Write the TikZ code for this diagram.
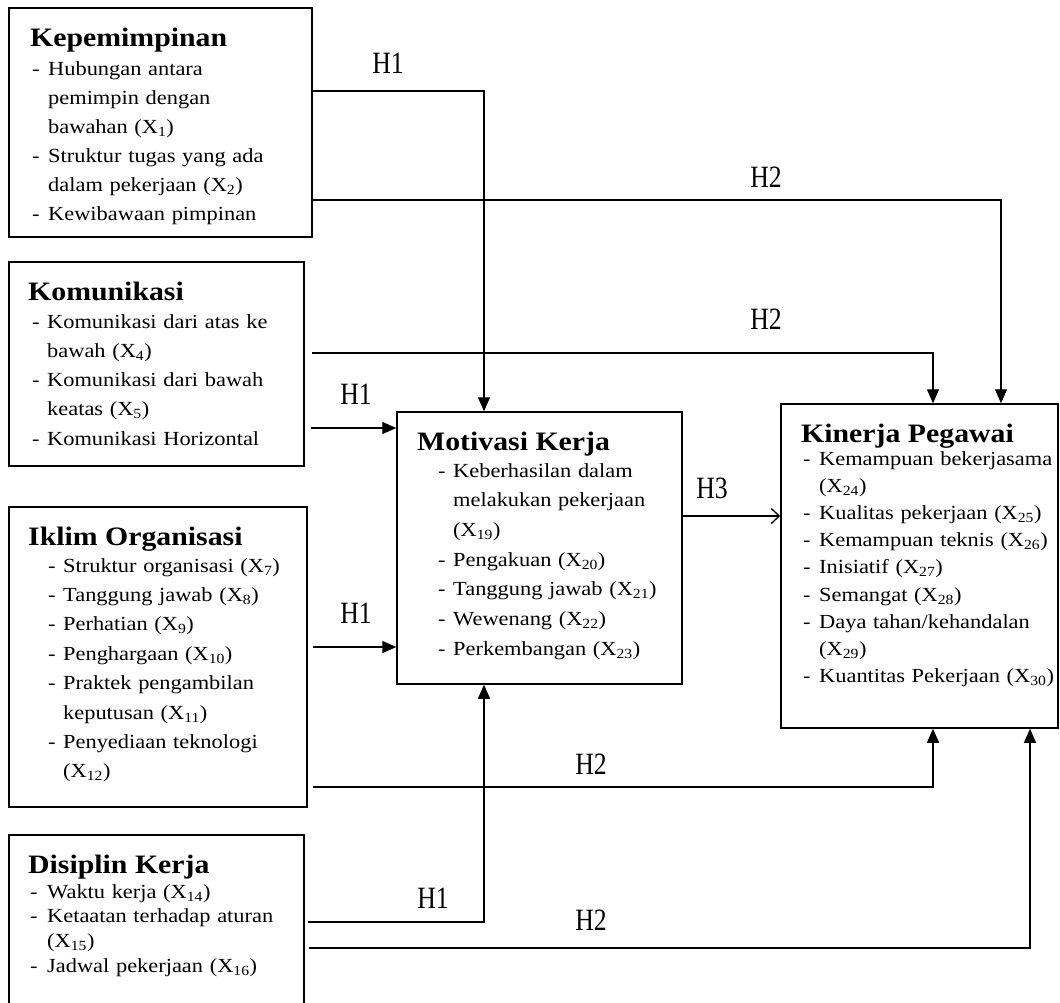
\documentclass[tikz,border=0pt]{standalone}
\usepackage{fontspec}
\setmainfont{Liberation Serif}[FakeStretch=1.12]
\newfontfamily\labfont{Liberation Serif}[FakeStretch=0.83]
\usetikzlibrary{arrows.meta,calc}
\setlength{\parindent}{0pt}
\newcommand{\dsh}[1]{\makebox[#1][l]{-}}
\newcommand{\ind}[1]{\hspace*{#1}}
\newcommand{\xs}[1]{(X\textsubscript{#1})}
\tikzset{
  box/.style={draw, line width=1.5pt, inner sep=0pt},
  ttl/.style={anchor=base west, inner sep=0pt, font=\fontsize{26.6}{30}\selectfont\bfseries},
  items/.style={anchor=base west, inner sep=0pt, align=left, text width=270pt},
  conn/.style={line width=1.3pt},
  arr/.style={conn, -{Triangle[length=14pt,width=12pt]}},
  oarr/.style={conn, -{Straight Barb[length=8pt,width=15pt]}},
  lab/.style={anchor=base, inner sep=0pt, font=\labfont\fontsize{31}{31}\selectfont}
}
\begin{document}
\begin{tikzpicture}[x=1pt,y=-1pt]
\useasboundingbox (0,0) rectangle (1060,1002);
\fill[white] (0,0) rectangle (1060,1002);
\clip (0,0) rectangle (1060,1002);

% boxes
\node[box, minimum width=303pt, minimum height=229pt] (kep) at (160.5,122.5) {};
\node[box, minimum width=295pt, minimum height=204pt] (kom) at (156.5,364) {};
\node[box, minimum width=298pt, minimum height=300pt] (ikl) at (158,657) {};
\node[box, minimum width=295pt, minimum height=180pt] (dis) at (156.5,925) {};
\node[box, minimum width=285pt, minimum height=272pt] (mot) at (539.5,548) {};
\node[box, minimum width=277pt, minimum height=324pt] (kin) at (919.5,566) {};

% titles
\node[ttl] (kept) at (30,46) {Kepemimpinan};
\node[ttl] (komt) at (28,300) {Komunikasi};
\node[ttl] (iklt) at (28,545) {Iklim Organisasi};
\node[ttl] (dist) at (28,873) {Disiplin Kerja};
\node[ttl] (mott) at (417,450) {Motivasi Kerja};
\node[ttl] (kint) at (801,442) {Kinerja Pegawai};

% item lists
\node[items, font=\fontsize{20}{29}\selectfont] (kepi) at (32,75) {%
\dsh{16pt}Hubungan antara\\
\ind{16pt}pemimpin dengan\\
\ind{16pt}bawahan \xs{1}\\
\dsh{16pt}Struktur tugas yang ada\\
\ind{16pt}dalam pekerjaan \xs{2}\\
\dsh{16pt}Kewibawaan pimpinan};

\node[items, font=\fontsize{20}{29.25}\selectfont] (komi) at (32,328) {%
\dsh{15pt}Komunikasi dari atas ke\\
\ind{15pt}bawah \xs{4}\\
\dsh{15pt}Komunikasi dari bawah\\
\ind{15pt}keatas \xs{5}\\
\dsh{15pt}Komunikasi Horizontal};

\node[items, font=\fontsize{20}{29.4}\selectfont] (ikli) at (48,572) {%
\dsh{15pt}Struktur organisasi \xs{7}\\
\dsh{15pt}Tanggung jawab \xs{8}\\
\dsh{15pt}Perhatian \xs{9}\\
\dsh{15pt}Penghargaan \xs{10}\\
\dsh{15pt}Praktek pengambilan\\
\ind{15pt}keputusan \xs{11}\\
\dsh{15pt}Penyediaan teknologi\\
\ind{15pt}\xs{12}};

\node[items, font=\fontsize{20}{24.7}\selectfont] (disi) at (30,898) {%
\dsh{17pt}Waktu kerja \xs{14}\\
\dsh{17pt}Ketaatan terhadap aturan\\
\ind{17pt}\xs{15}\\
\dsh{17pt}Jadwal pekerjaan \xs{16}};

\node[items, font=\fontsize{20}{29.7}\selectfont] (moti) at (438,477) {%
\dsh{15pt}Keberhasilan dalam\\
\ind{15pt}melakukan pekerjaan\\
\ind{15pt}\xs{19}\\
\dsh{15pt}Pengakuan \xs{20}\\
\dsh{15pt}Tanggung jawab \xs{21}\\
\dsh{15pt}Wewenang \xs{22}\\
\dsh{15pt}Perkembangan \xs{23}};

\node[items, font=\fontsize{20}{27.2}\selectfont] (kini) at (803,465) {%
\dsh{16pt}Kemampuan bekerjasama\\
\ind{16pt}\xs{24}\\
\dsh{16pt}Kualitas pekerjaan \xs{25}\\
\dsh{16pt}Kemampuan teknis \xs{26}\\
\dsh{16pt}Inisiatif \xs{27}\\
\dsh{16pt}Semangat \xs{28}\\
\dsh{16pt}Daya tahan/kehandalan\\
\ind{16pt}\xs{29}\\
\dsh{16pt}Kuantitas Pekerjaan \xs{30}};

% connectors
\draw[arr] (kep.east |- 0,91) -| (mot.north -| 484,0);
\draw[arr] (kep.east |- 0,200) -| (kin.north -| 1001,0);
\draw[arr] ($(kom.east |- 0,353)+(7,0)$) -| (kin.north -| 933,0);
\draw[arr] ($(kom.east |- 0,428)+(6,0)$) -- (mot.west |- 0,428);
\draw[arr] ($(ikl.east |- 0,647)+(5,0)$) -- (mot.west |- 0,647);
\draw[arr] ($(ikl.east |- 0,787)+(5,0)$) -| (kin.south -| 933,0);
\draw[arr] ($(dis.east |- 0,922)+(3,0)$) -| (mot.south -| 484,0);
\draw[arr] ($(dis.east |- 0,948)+(4,0)$) -| (kin.south -| 1030,0);
\draw[oarr] (mot.east |- 0,516) -- (kin.west |- 0,516);

% labels
\node[lab] (l1) at (388,73) {H1};
\node[lab] (l2) at (766,187) {H2};
\node[lab] (l3) at (766,329) {H2};
\node[lab] (l4) at (356,404) {H1};
\node[lab] (l5) at (356,623) {H1};
\node[lab] (l6) at (712,498) {H3};
\node[lab] (l7) at (591,774) {H2};
\node[lab] (l8) at (433,908) {H1};
\node[lab] (l9) at (591,930) {H2};
\end{tikzpicture}
\end{document}
